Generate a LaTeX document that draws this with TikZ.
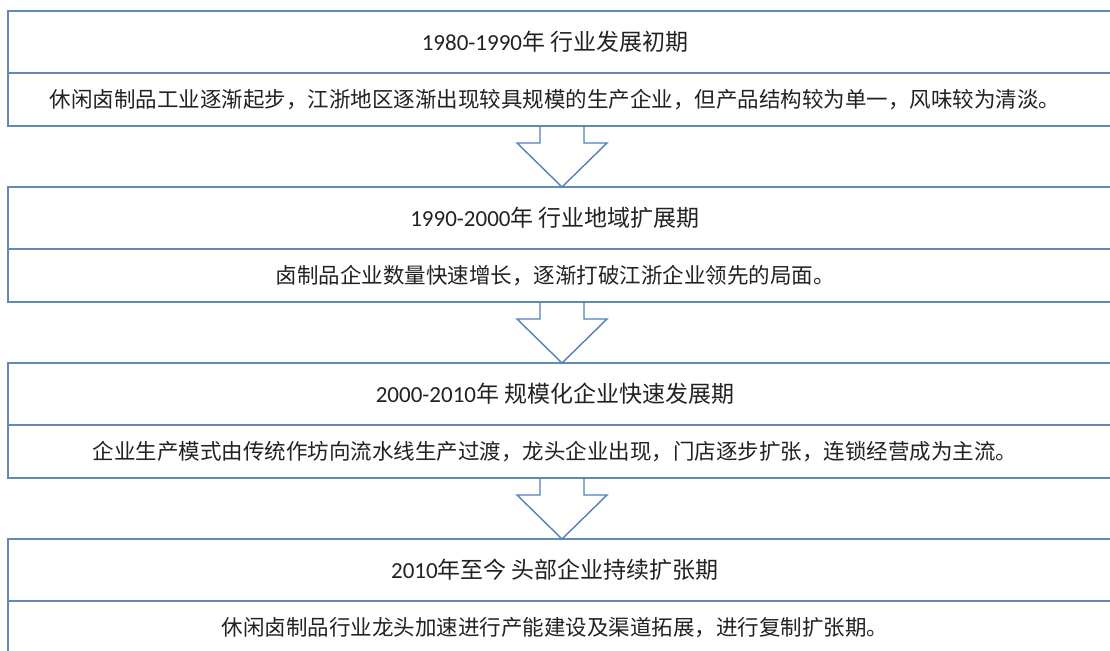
\documentclass[tikz,border=0pt]{standalone}
\usepackage{fontspec}
\setmainfont{Noto Sans CJK SC}
\newfontfamily\numfont{Carlito}
\usetikzlibrary{positioning}

\definecolor{rowblue}{RGB}{98,138,180}
\definecolor{arrowblue}{RGB}{82,128,186}
\definecolor{inkgrey}{RGB}{34,34,34}

\tikzset{
  titlerow/.style={minimum width=1094pt, minimum height=62pt, inner sep=0pt, outer sep=0pt,
    text=inkgrey, font=\fontsize{23}{26}\selectfont},
  descrow/.style={minimum width=1094pt, minimum height=53pt, inner sep=0pt, outer sep=0pt,
    text=inkgrey, font=\fontsize{21.5}{24}\selectfont},
  rowline/.style={draw=rowblue, line width=1.8pt},
  hollowarrow/.style={draw=arrowblue, line width=1.4pt, line join=miter},
}

\begin{document}
\begin{tikzpicture}[x=1pt, y=-1pt]
    \fill [white] (0, 0) rectangle (1110, 650);
    \useasboundingbox (0, 0) rectangle (1110, 650);
    % stage 1
    \node [titlerow] (t1) at (555, 42) {{\numfont 1980-1990}年 行业发展初期};
    \node [descrow, below=0pt of t1] (d1) {休闲卤制品工业逐渐起步，江浙地区逐渐出现较具规模的生产企业，但产品结构较为单一，风味较为清淡。};
    % stage 2
    \node [titlerow, below=61pt of d1] (t2) {{\numfont 1990-2000}年 行业地域扩展期};
    \node [descrow, below=0pt of t2] (d2) {卤制品企业数量快速增长，逐渐打破江浙企业领先的局面。};
    % stage 3
    \node [titlerow, below=61pt of d2] (t3) {{\numfont 2000-2010}年 规模化企业快速发展期};
    \node [descrow, below=0pt of t3] (d3) {企业生产模式由传统作坊向流水线生产过渡，龙头企业出现，门店逐步扩张，连锁经营成为主流。};
    % stage 4
    \node [titlerow, below=61pt of d3] (t4) {{\numfont 2010}年至今 头部企业持续扩张期};
    \node [descrow, below=0pt of t4] (d4) {休闲卤制品行业龙头加速进行产能建设及渠道拓展，进行复制扩张期。};

    % rows
    \foreach \i in {1,2,3,4} {
      \draw [rowline] ([xshift=12pt]t\i.north east) -- (t\i.north west) -- (d\i.south west) -- ([xshift=12pt]d\i.south east);
      \draw [rowline] (t\i.south west) -- ([xshift=12pt]t\i.south east);
    }

    % arrows
    \foreach \i/\j in {1/2,2/3,3/4} {
      \draw [hollowarrow] ([xshift=-15pt]d\i.south) -- ++(0, 17) -- ++(-23, 0) -- ([xshift=7pt]t\j.north)
                          -- ++(45, -44) -- ++(-23, 0) -- ([xshift=29pt]d\i.south);
    }
  \end{tikzpicture}
\end{document}
